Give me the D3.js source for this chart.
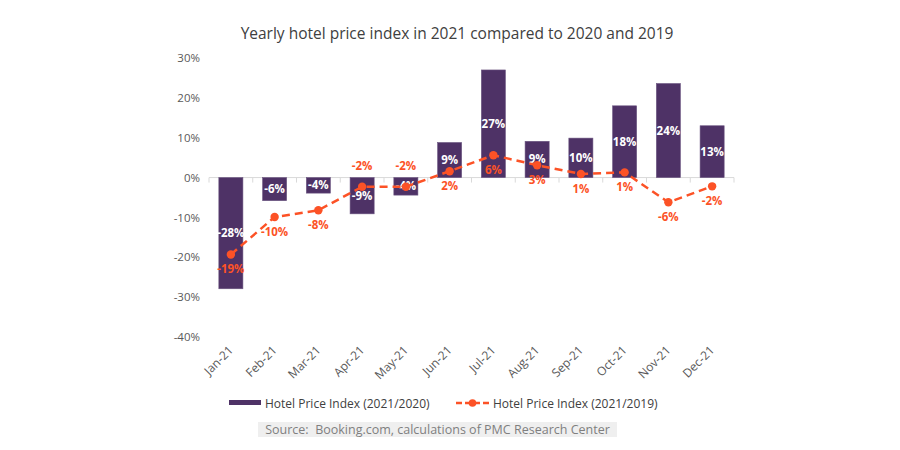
<!DOCTYPE html>
<html>
<head>
<meta charset="utf-8">
<script src="https://cdn.jsdelivr.net/npm/d3@7"></script>
<style>
  body { margin: 0; background: #fff; }
  svg { font-family: "Open Sans", sans-serif; }
</style>
</head>
<body>
<div id="plot"></div>
<script>
var months = ["Jan-21", "Feb-21", "Mar-21", "Apr-21", "May-21", "Jun-21",
              "Jul-21", "Aug-21", "Sep-21", "Oct-21", "Nov-21", "Dec-21"];
// Hotel Price Index (2021/2020), %
var vs2020 = [-27.9, -5.8, -3.9, -9.1, -4.4, 8.8, 27.0, 9.1, 9.9, 18.0, 23.6, 13.0];
// Hotel Price Index (2021/2019), %
var vs2019 = [-19.3, -9.9, -8.2, -2.3, -2.3, 1.6, 5.6, 3.1, 0.9, 1.3, -6.2, -2.2];
var yTicks = [30, 20, 10, 0, -10, -20, -30, -40];
// months whose 2019 label sits above the point
var labelAbove = ["Apr-21", "May-21"];

var W = 900, H = 450;
var margin = {top: 58, right: 166, bottom: 113, left: 209};
var width = W - margin.left - margin.right,
    height = H - margin.top - margin.bottom;

var barColor = "#4e3266", lineColor = "#fc5226";

var svg = d3.select("#plot").append("svg")
    .attr("width", W).attr("height", H);

svg.append("text")
    .attr("x", 457).attr("y", 39)
    .attr("text-anchor", "middle")
    .style("font-size", "15.5px")
    .style("fill", "#404040")
    .text("Yearly hotel price index in 2021 compared to 2020 and 2019");

var g = svg.append("g")
    .attr("transform", `translate(${margin.left},${margin.top})`);

var x = d3.scaleBand().domain(months).range([0, width]).paddingInner(0.45).paddingOuter(0.225);
var y = d3.scaleLinear().domain([-40, 30]).range([height, 0]);

// y axis labels
g.append("g")
    .call(d3.axisLeft(y).tickValues(yTicks).tickFormat(d => d + "%").tickSize(0).tickPadding(9))
    .call(a => a.select(".domain").remove())
    .selectAll("text")
    .style("font-family", "'Open Sans', sans-serif")
    .style("font-size", "11.5px")
    .style("fill", "#595959");

// zero line with ticks between categories
var band = width / months.length;
g.append("line")
    .attr("x1", 0).attr("x2", width)
    .attr("y1", y(0)).attr("y2", y(0))
    .attr("stroke", "#d9d9d9").attr("stroke-width", 1);
g.selectAll(".cattick")
    .data(d3.range(months.length + 1))
    .join("line")
    .attr("x1", i => i * band).attr("x2", i => i * band)
    .attr("y1", y(0)).attr("y2", y(0) + 5)
    .attr("stroke", "#d9d9d9");

// bars
g.selectAll("rect.bar")
    .data(months)
    .join("rect")
    .attr("class", "bar")
    .attr("x", m => x(m))
    .attr("width", x.bandwidth())
    .attr("y", (m, i) => y(Math.max(0, vs2020[i])))
    .attr("height", (m, i) => Math.abs(y(vs2020[i]) - y(0)))
    .attr("fill", barColor)
    .attr("stroke", "#6b5580").attr("stroke-width", 0.6);

g.selectAll("text.barlab")
    .data(months)
    .join("text")
    .attr("class", "barlab")
    .attr("x", m => x(m) + x.bandwidth() / 2)
    .attr("y", (m, i) => (y(vs2020[i]) + y(0)) / 2 + 4)
    .attr("text-anchor", "middle")
    .style("font-size", "11.5px")
    .style("font-weight", "bold")
    .style("fill", "#fff")
    .text((m, i) => Math.round(vs2020[i]) + "%");

// dashed line
var cx = m => x(m) + x.bandwidth() / 2;
var line = d3.line().x((d, i) => cx(months[i])).y(d => y(d));
g.append("path")
    .datum(vs2019)
    .attr("d", line)
    .attr("fill", "none")
    .attr("stroke", lineColor)
    .attr("stroke-width", 2.5)
    .attr("stroke-dasharray", "8,5");

g.selectAll("circle.pt")
    .data(vs2019)
    .join("circle")
    .attr("class", "pt")
    .attr("cx", (d, i) => cx(months[i]))
    .attr("cy", d => y(d))
    .attr("r", 4.2)
    .attr("fill", lineColor);

g.selectAll("text.ptlab")
    .data(vs2019)
    .join("text")
    .attr("class", "ptlab")
    .attr("x", (d, i) => cx(months[i]))
    .attr("y", (d, i) => labelAbove.includes(months[i]) ? y(d) - 17 : y(d) + 19)
    .attr("text-anchor", "middle")
    .style("font-size", "11.5px")
    .style("font-weight", "bold")
    .style("fill", lineColor)
    .text(d => Math.round(d) + "%");

// x labels at bottom
g.selectAll("text.xlab")
    .data(months)
    .join("text")
    .attr("class", "xlab")
    .attr("transform", m => `translate(${cx(m) + 3},${height + 14}) rotate(-45)`)
    .attr("text-anchor", "end")
    .style("font-size", "12px")
    .style("fill", "#595959")
    .text(m => m);

// legend
var leg = svg.append("g").attr("transform", "translate(0,403)");
leg.append("rect")
    .attr("x", 229).attr("y", -3).attr("width", 32).attr("height", 5)
    .attr("fill", barColor);
leg.append("text")
    .attr("x", 265).attr("y", 4.5)
    .style("font-size", "12px").style("fill", "#404040")
    .text("Hotel Price Index (2021/2020)");
leg.append("line")
    .attr("x1", 456).attr("x2", 489).attr("y1", 0).attr("y2", 0)
    .attr("stroke", lineColor).attr("stroke-width", 2.5)
    .attr("stroke-dasharray", "6,3");
leg.append("circle")
    .attr("cx", 472.5).attr("cy", 0).attr("r", 3.8).attr("fill", lineColor);
leg.append("text")
    .attr("x", 493).attr("y", 4.5)
    .style("font-size", "12px").style("fill", "#404040")
    .text("Hotel Price Index (2021/2019)");

// source
svg.append("rect")
    .attr("x", 258).attr("y", 422).attr("width", 359).attr("height", 15)
    .attr("fill", "#efefef");
svg.append("text")
    .attr("x", 437.5).attr("y", 434)
    .attr("text-anchor", "middle")
    .style("font-size", "12.5px").style("fill", "#7f7f7f")
    .attr("xml:space", "preserve")
    .text("Source:  Booking.com, calculations of PMC Research Center");
</script>
</body>
</html>
